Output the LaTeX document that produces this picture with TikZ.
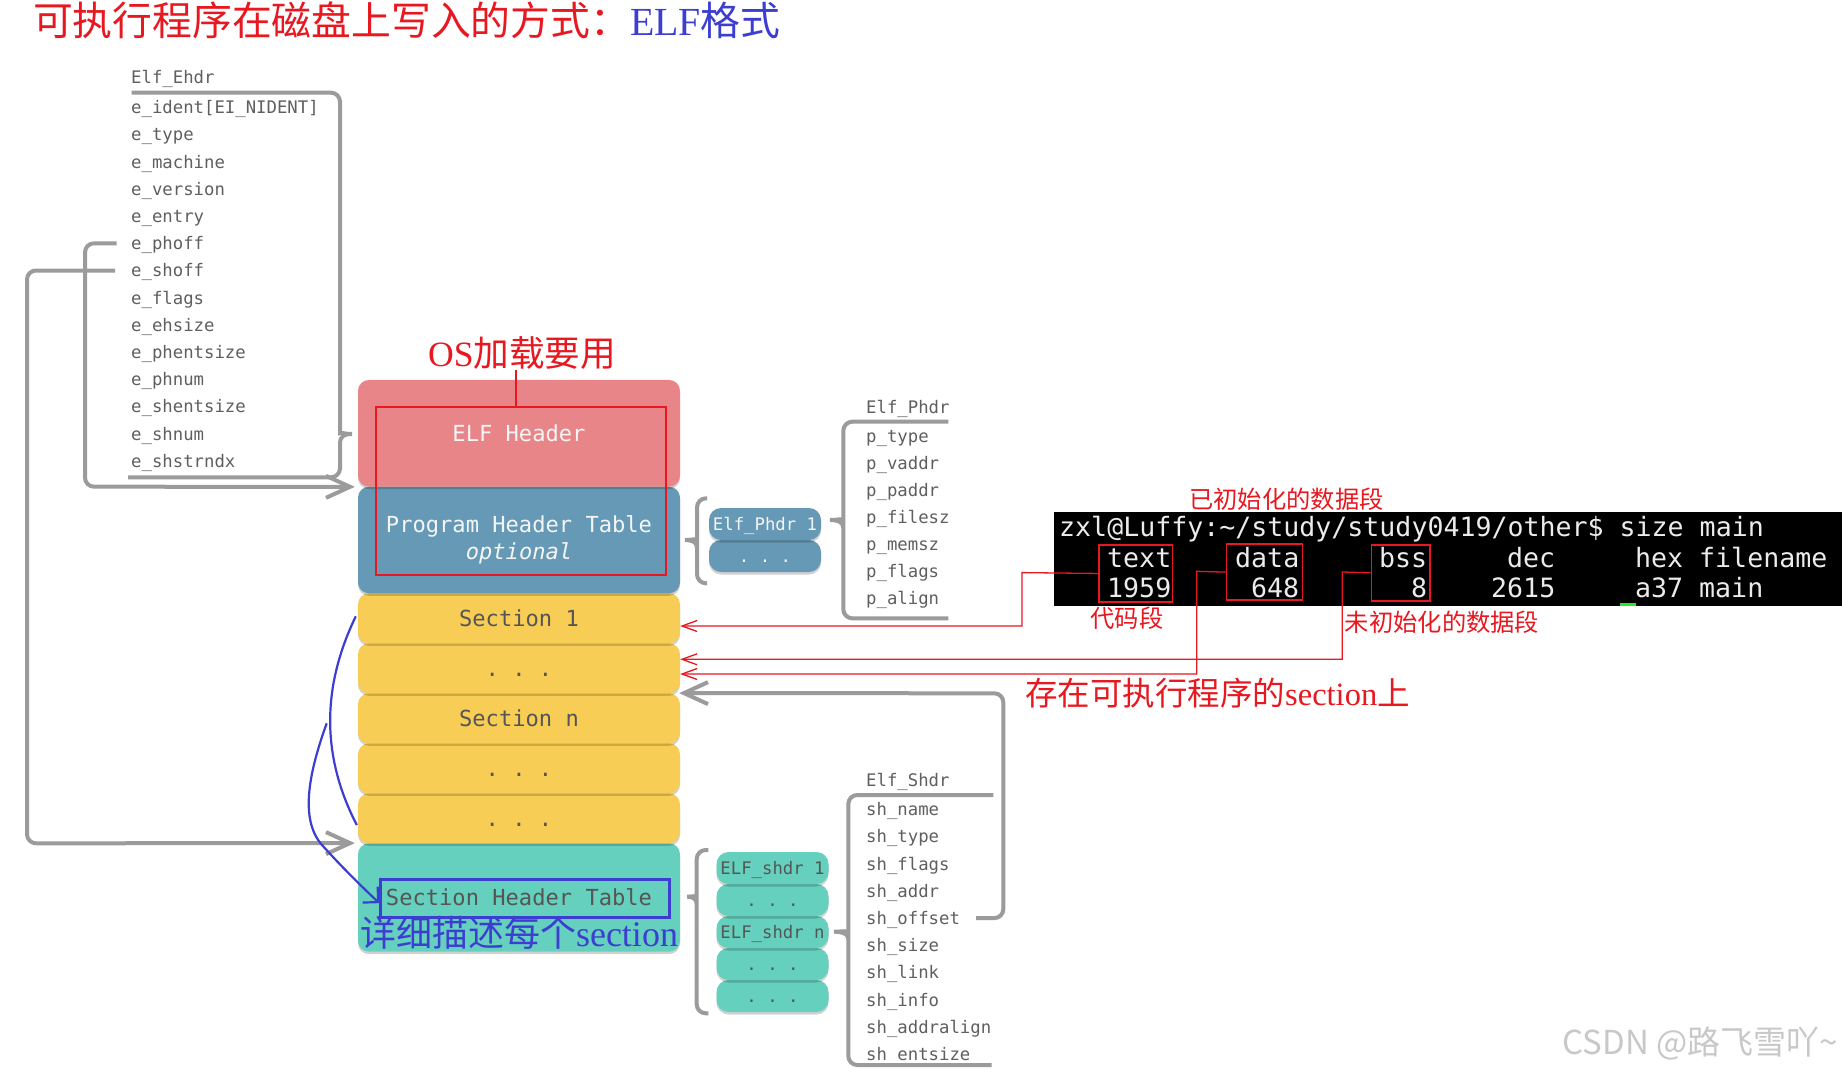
\documentclass[tikz,border=0pt]{standalone}
\usepackage{fontspec}
\setmainfont{Liberation Serif}
\setmonofont{DejaVu Sans Mono}
\newfontfamily\cjk{Noto Sans CJK SC}
\usetikzlibrary{arrows.meta,shadows}
\definecolor{pinkc}{RGB}{232,133,137}
\definecolor{bluec}{RGB}{101,153,181}
\definecolor{yellowc}{RGB}{248,205,86}
\definecolor{tealc}{RGB}{101,208,190}
\definecolor{linegray}{RGB}{155,155,155}
\definecolor{txtgray}{RGB}{95,95,95}
\definecolor{blktxt}{RGB}{85,85,85}
\definecolor{lighttxt}{RGB}{245,245,245}
\definecolor{annred}{RGB}{232,24,32}
\definecolor{annblue}{RGB}{60,62,210}
\definecolor{termtxt}{RGB}{235,235,235}
\definecolor{wmgray}{RGB}{200,200,200}
\definecolor{cursorgreen}{RGB}{40,230,40}
\tikzset{
  blkshadow/.style={drop shadow={shadow xshift=0pt,shadow yshift=-2.5pt,opacity=0.18,fill=black}},
  bigblk/.style={rounded corners=11pt,minimum width=322pt,minimum height=50pt,inner sep=0pt,
     font=\ttfamily\fontsize{22.1}{26.7}\selectfont,blkshadow},
  bigcap/.style={text height=16.1pt,text depth=0pt},
  smallblk/.style={rounded corners=12pt,minimum width=112pt,minimum height=32pt,inner sep=0pt,
     font=\ttfamily\fontsize{17.3}{20}\selectfont,text height=12.6pt,text depth=0pt,blkshadow},
  field/.style={anchor=west,inner sep=0pt,text=txtgray,font=\ttfamily\fontsize{17.3}{20}\selectfont,text height=12.6pt,text depth=0pt},
  termline/.style={anchor=west,inner sep=0pt,text=termtxt,font=\ttfamily\fontsize{26.6}{30}\selectfont,text height=19.4pt,text depth=0pt},
  grayconn/.style={draw=linegray,line width=4pt,rounded corners=9pt},
  grayarrow/.style={grayconn,-{Straight Barb[length=24pt,width=22pt]}},
  redconn/.style={draw=annred,line width=1.3pt},
  redarrow/.style={redconn,-{Straight Barb[length=15pt,width=11pt]}},
  redbox/.style={draw=annred,line width=1.6pt,inner sep=0pt,anchor=north west},
  bluearrow/.style={draw=annblue,line width=2.2pt,-{Straight Barb[length=11pt,width=22pt]}},
  cjklabel/.style={inner sep=0pt},
}
\begin{document}
\begin{tikzpicture}[x=1pt,y=-1pt]
\fill[white] (0,0) rectangle (1842,1076);
\useasboundingbox (0,0) rectangle (1842,1076);

% ---------- title ----------
\node[cjklabel,anchor=west] (title) at (33,20)
  {\fontsize{39.8}{40}\selectfont\color{annred}\cjk 可执行程序在磁盘上写入的方式：\color{annblue}\rmfamily ELF\cjk 格式};

% ---------- Elf_Ehdr fields ----------
\node[field] (ehdr) at (131,76.7) {Elf\_Ehdr};
\node[field] (eident) at (131,107.3) {e\_ident[EI\_NIDENT]};
\node[field] (etype) at (131,134.5) {e\_type};
\node[field] (emachine) at (131,161.7) {e\_machine};
\node[field] (eversion) at (131,188.9) {e\_version};
\node[field] (eentry) at (131,216.1) {e\_entry};
\node[field] (ephoff) at (131,243.3) {e\_phoff};
\node[field] (eshoff) at (131,270.5) {e\_shoff};
\node[field] (eflags) at (131,297.7) {e\_flags};
\node[field] (eehsize) at (131,324.9) {e\_ehsize};
\node[field] (ephentsize) at (131,352.1) {e\_phentsize};
\node[field] (ephnum) at (131,379.3) {e\_phnum};
\node[field] (eshentsize) at (131,406.5) {e\_shentsize};
\node[field] (eshnum) at (131,433.7) {e\_shnum};
\node[field] (eshstrndx) at (131,460.9) {e\_shstrndx};

% brace of Elf_Ehdr
\draw[grayconn] (131.7,92.7) -- (340,92.7) -- (340,424) [sharp corners]
  .. controls (340,432) and (344,434) .. (352,434)
  .. controls (344,434) and (340,436) .. (340,444) [rounded corners=9pt]
  -- (340,477.3) -- (128,477.3);

% ---------- main blocks (bottom to top) ----------
\node[bigblk,fill=tealc,minimum height=108.4pt,text=blktxt,bigcap] (shtab) at (519,897.5) {Section Header Table};
\node[bigblk,fill=yellowc,text=blktxt,bigcap] (dots3) at (519,818.3) {.\ .\ .};
\node[bigblk,fill=yellowc,text=blktxt,bigcap] (dots2) at (519,768.3) {.\ .\ .};
\node[bigblk,fill=yellowc,text=blktxt,bigcap] (secn) at (519,718.3) {Section n};
\node[bigblk,fill=yellowc,text=blktxt,bigcap] (dots1) at (519,668.3) {.\ .\ .};
\node[bigblk,fill=yellowc,text=blktxt,bigcap] (sec1) at (519,618.3) {Section 1};
\node[bigblk,fill=bluec,minimum height=106.6pt,text=lighttxt,align=center] (pht) at (519,540) {Program Header Table\\\textit{optional}};
\node[bigblk,fill=pinkc,minimum height=106.7pt,text=lighttxt,bigcap] (elfh) at (519,433.3) {ELF Header};

% ---------- left connectors ----------
\draw[grayarrow] ([xshift=-14.3pt]ephoff.west) -- (85,243.3) -- (85,486.7) -- ([xshift=-3pt]elfh.south west);
\draw[grayarrow] ([xshift=-16pt]eshoff.west) -- (27,270.5) -- (27,843.3) -- ([xshift=-3pt]shtab.north west);

% ---------- red annotation on headers ----------
\node[redbox,minimum width=290pt,minimum height=168.3pt] (osbox) at (375,406) {};
\node[cjklabel,text=annred,font=\fontsize{35.6}{36}\selectfont] (oslabel) at (522,353) {\rmfamily OS\cjk 加载要用};
\draw[draw=annred,line width=2.4pt] ([xshift=-5pt]osbox.north) -- ([xshift=-5pt]osbox.north |- oslabel.south);

% ---------- Section Header Table annotation ----------
\node[draw=annblue,line width=3pt,inner sep=0pt,anchor=north west,minimum width=289pt,minimum height=38.3pt] (shbox) at (379.3,877.7) {};
\node[cjklabel,text=annblue,font=\fontsize{36}{36}\selectfont] (shlabel) at (519,933) {\cjk 详细描述每个\rmfamily section};
\coordinate (bstart) at (326.7,723.3);
\draw[draw=annblue,line width=2.2pt] ([xshift=-2pt,yshift=2pt]sec1.west) .. controls (325,680) and (318,750) .. ([xshift=-1pt,yshift=-6.7pt]dots3.west);
\draw[bluearrow] (bstart) .. controls (308,775) and (300,820) .. (322,845) .. controls (340,865) and (360,885) .. ([yshift=-4.8pt]shbox.west);

% ---------- Elf_Phdr ----------
\node[smallblk,fill=bluec,text=lighttxt] (phdots) at (765,556) {.\ .\ .};
\node[smallblk,fill=bluec,text=lighttxt] (phdr1) at (765,524) {Elf\_Phdr 1};
\draw[grayconn] (707,498.3) -- (697,498.3) -- (697,532) [sharp corners]
  .. controls (697,538) and (692,540) .. (685,540)
  .. controls (692,540) and (697,542) .. (697,548) [rounded corners=9pt]
  -- (697,583.3) -- (707,583.3);

\node[field] (phdr) at (866,406.7) {Elf\_Phdr};
\node[field] (ptype) at (866,436) {p\_type};
\node[field] (pvaddr) at (866,463) {p\_vaddr};
\node[field] (ppaddr) at (866,490) {p\_paddr};
\node[field] (pfilesz) at (866,517) {p\_filesz};
\node[field] (pmemsz) at (866,544) {p\_memsz};
\node[field] (pflags) at (866,571) {p\_flags};
\node[field] (palign) at (866,598) {p\_align};
\draw[grayconn] (948.3,421.7) -- (843.3,421.7) -- (843.3,512) [sharp corners]
  .. controls (843.3,518) and (838,520) .. (830,520)
  .. controls (838,520) and (843.3,522) .. (843.3,528) [rounded corners=9pt]
  -- (843.3,618.3) -- (948.3,618.3);

% ---------- Elf_Shdr ----------
\node[smallblk,fill=tealc,text=blktxt] (shd5) at (772.5,996) {.\ .\ .};
\node[smallblk,fill=tealc,text=blktxt] (shd4) at (772.5,964) {.\ .\ .};
\node[smallblk,fill=tealc,text=blktxt] (shdn) at (772.5,932) {ELF\_shdr n};
\node[smallblk,fill=tealc,text=blktxt] (shd2) at (772.5,900) {.\ .\ .};
\node[smallblk,fill=tealc,text=blktxt] (shd1) at (772.5,868) {ELF\_shdr 1};
\draw[grayconn] (708.3,850) -- (696.7,850) -- (696.7,889) [sharp corners]
  .. controls (696.7,895) and (692,896.7) .. (687.3,896.7)
  .. controls (692,896.7) and (696.7,898.4) .. (696.7,904) [rounded corners=9pt]
  -- (696.7,1013.3) -- (708.3,1013.3);

\node[field] (shdr) at (866,780) {Elf\_Shdr};
\node[field] (shname) at (866,809.3) {sh\_name};
\node[field] (shtype) at (866,836.5) {sh\_type};
\node[field] (shflags) at (866,863.7) {sh\_flags};
\node[field] (shaddr) at (866,890.9) {sh\_addr};
\node[field] (shoffset) at (866,918.1) {sh\_offset};
\node[field] (shsize) at (866,945.3) {sh\_size};
\node[field] (shlink) at (866,972.5) {sh\_link};
\node[field] (shinfo) at (866,999.7) {sh\_info};
\node[field] (shaddralign) at (866,1026.9) {sh\_addralign};
\node[field] (shentsize) at (866,1054.1) {sh\_entsize};
\draw[grayconn] (993.3,795) -- (848.3,795) -- (848.3,924) [sharp corners]
  .. controls (848.3,930) and (842,931.7) .. (834,931.7)
  .. controls (842,931.7) and (848.3,933.4) .. (848.3,939) [rounded corners=9pt]
  -- (848.3,1065) -- (991.7,1065);

\draw[grayarrow] ([xshift=16pt]shoffset.east) -- (1003.3,918.1) -- (1003.3,693.3) -- ([xshift=-1pt]secn.north east);

% ---------- terminal ----------
\node[fill=black,inner sep=0pt,anchor=north west,minimum width=788.5pt,minimum height=94.3pt] (term) at (1053.5,511.7) {};
\node[termline] (tl1) at (1059,526.7) {zxl@Luffy:\textasciitilde/study/study0419/other\$ size main};
\node[termline] (htext) at (1107,557.3) {text};
\node[termline] (hdata) at (1235,557.3) {data};
\node[termline] (hbss) at (1379,557.3) {bss};
\node[termline] (hdec) at (1507,557.3) {dec};
\node[termline] (hhex) at (1635,557.3) {hex};
\node[termline] (hfile) at (1699,557.3) {filename};
\node[termline] (vtext) at (1107,587.3) {1959};
\node[termline] (vdata) at (1251,587.3) {648};
\node[termline] (vbss) at (1411,587.3) {8};
\node[termline] (vdec) at (1491,587.3) {2615};
\node[termline] (vhex) at (1635,587.3) {a37};
\node[termline] (vfile) at (1699,587.3) {main};
\fill[cursorgreen] (1620,602.5) rectangle (1636,606);

\node[redbox,minimum width=73.4pt,minimum height=56.7pt] (textbox) at (1098.3,544.3) {};
\node[redbox,minimum width=76pt,minimum height=56pt] (databox) at (1225.7,543.3) {};
\node[redbox,minimum width=58.5pt,minimum height=56pt] (bssbox) at (1370.5,544) {};

\node[cjklabel,text=annred,font=\cjk\fontsize{24.3}{25}\selectfont] (lbldata) at (1286.5,499) {已初始化的数据段};
\node[cjklabel,text=annred,font=\cjk\fontsize{24.3}{25}\selectfont] (lbltext) at (1127,618) {代码段};
\node[cjklabel,text=annred,font=\cjk\fontsize{24.3}{25}\selectfont] (lblbss) at (1442,622.5) {未初始化的数据段};
\node[cjklabel,text=annred,anchor=west,font=\fontsize{32.5}{33}\selectfont] (lblsec) at (1025,693) {\cjk 存在可执行程序的\rmfamily section\cjk 上};

\draw[redarrow] (textbox.west) -- (1022,572.6) -- (1022,626) -- ([yshift=-7.7pt]sec1.east);
\draw[redarrow] (bssbox.west) -- (1342.3,572) -- (1342.3,659.3) -- ([yshift=9pt]dots1.east);
\draw[redarrow] (databox.west) -- (1196.7,571.3) -- (1196.7,674) -- ([yshift=-5.7pt]dots1.east);

% ---------- watermark ----------
\node[cjklabel,anchor=east,text=wmgray,font=\cjk\fontsize{33}{33}\selectfont] (wm) at (1838,1043) {CSDN @路飞雪吖\textasciitilde};
\end{tikzpicture}
\end{document}
